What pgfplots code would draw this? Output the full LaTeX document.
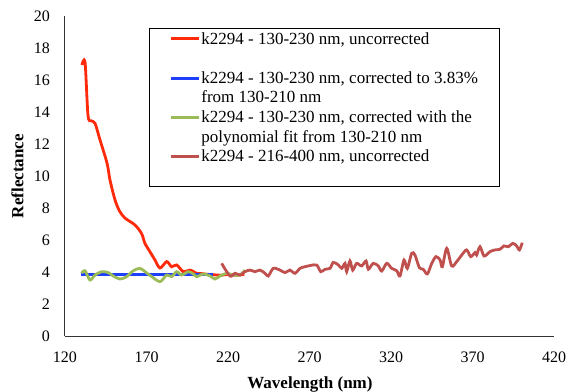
\documentclass[border=0pt]{standalone}
\usepackage{fontspec}
\setmainfont{Liberation Serif}
\usepackage{pgfplots}
\pgfplotsset{compat=1.18}
\definecolor{cred}{HTML}{FF2A0A}
\definecolor{cblue}{HTML}{1F3FFF}
\definecolor{cgreen}{HTML}{9BBB59}
\definecolor{cbrown}{HTML}{C0504D}
\begin{document}
\begin{tikzpicture}
\begin{axis}[
 at={(0,0)}, anchor=south west,
 width=489bp, height=320bp, scale only axis,
 xmin=120, xmax=420, ymin=0, ymax=20,
 xtick={120,170,...,420}, ytick={0,2,...,20},
 axis x line*=bottom, axis y line*=left,
 axis line style={black!80, line width=1bp},
 major tick length=0pt,
 /pgf/number format/assume math mode=true,
 tick label style={font=\fontsize{16bp}{19bp}\selectfont, inner sep=0pt},
 yticklabel style={anchor=east, xshift=-15bp},
 xticklabel style={anchor=north, yshift=-16bp},
 xlabel={\textbf{Wavelength (nm)}}, ylabel={\textbf{Reflectance}},
 label style={font=\fontsize{17bp}{20bp}\selectfont},
 xlabel style={at={(axis description cs:0.501,-0.1625)}, anchor=base},
 ylabel style={at={(axis description cs:-0.0849,0.5)}, anchor=base},
 every axis plot/.append style={line width=2.8bp, smooth, tension=0.5},
 legend image code/.code={\draw[#1, line width=3bp] (0bp,0bp) -- (28bp,0bp);},
 legend cell align=left,
 legend style={at={(axis description cs:0.1718,0.9625)}, anchor=north west,
   draw=black, line width=0.8bp, inner xsep=20bp, inner ysep=0.7bp,
   font=\fontsize{17bp}{19.6bp}\selectfont,
   nodes={inner xsep=1bp, inner ysep=0bp, text height=15bp, text depth=4.6bp},
   column sep=0bp, row sep=0bp},
]
\addplot[cred] coordinates {
(130.4,16.94) (132.3,17.1) (134.1,13.8) (136,13.45) (138.4,13.3) (141.5,12.25)
(145.8,10.8) (147.6,9.75) (150.7,8.5) (153.5,7.8) (156.8,7.37) (162.9,6.94)
(167,6.4) (169,5.8) (172.1,5.27) (175.2,4.75) (178.3,4.25) (182.4,4.65)
(185.4,4.33) (188.5,4.44) (192.6,4.02) (196.7,4.12) (200.8,3.92) (204,3.9)
(208,3.85) (212,3.82) (216,3.8) (220,3.85) (225,3.8) (230,3.85)};
\addlegendentry{k2294 - 130-230 nm, uncorrected}
\addlegendimage{empty legend}
\addlegendentry{}
\addplot[cblue] coordinates {(130,3.83) (150,3.83) (170,3.83) (190,3.83) (211,3.83)};
\addlegendentry{k2294 - 130-230 nm, corrected to 3.83\%}
\addlegendimage{empty legend}
\addlegendentry{from 130-210 nm}
\addplot[cgreen] coordinates {
(130.2,3.92) (132.3,4.08) (135.3,3.5) (138.4,3.81) (142.5,4.02) (146.6,3.96)
(149.6,3.75) (153.7,3.56) (157.8,3.71) (161.9,4.08) (166,4.23) (169.1,4.02)
(173.2,3.71) (178.3,3.4) (182.4,3.81) (185.4,3.71) (188.5,4.02) (191.6,3.81)
(195.6,4.02) (198.7,3.88) (200.8,3.71) (204.8,3.88) (209,3.75) (212,3.56)
(215.1,3.75) (219.2,3.92) (223.3,3.81) (227.4,3.81) (230.4,4.12)};
\addlegendentry{k2294 - 130-230 nm, corrected with the}
\addlegendimage{empty legend}
\addlegendentry{polynomial fit from 130-210 nm\hspace*{52bp}}
\addplot[cbrown] coordinates {
(216.1,4.54) (221.2,3.75) (224.3,3.92) (227.4,3.81) (230.4,4.02) (233.5,4.12)
(236.6,4.02) (239.6,4.12) (242.7,3.92) (244.7,3.75) (247.8,4.23) (251.9,4.12)
(255,3.96) (258,4.12) (261.1,3.92) (264.2,4.23) (267.2,4.33) (270.3,4.4)
(274.4,4.44) (276.9,4.02) (279.5,4.17) (282.6,4.23) (284.6,4.6) (287.7,4.44)
(289.8,4.23) (291.8,4.54) (292.8,4.02) (294.8,4.69) (296.5,4.12) (298.9,4.54)
(302,4.38) (304.7,4.69) (306.1,4.17) (309.1,4.54) (312.2,4.38) (314.3,4.06)
(317.4,4.54) (320.4,4.23) (323.5,4.08) (325.5,3.75) (328,4.75) (330,4.23)
(332.7,5.17) (334.7,5.06) (337.4,4.27) (339.8,4.17) (342.3,3.88) (345,4.54)
(347.6,4.96) (350.1,4.75) (351.5,4.33) (354.2,5.48) (357.2,4.38) (360.3,4.65)
(363.4,5.06) (366.4,5.38) (368.9,4.96) (371.5,5.21) (372.5,5.06) (374.6,5.58)
(377.1,5.0) (380.7,5.27) (383.7,5.38) (386.9,5.42) (389.3,5.63) (392,5.58)
(394.7,5.79) (397.1,5.63) (398.8,5.38) (400.5,5.83)};
\addlegendentry{k2294 - 216-400 nm, uncorrected}
\addlegendimage{empty legend}
\addlegendentry{}
\end{axis}
\pgfresetboundingbox
\path[use as bounding box] (-65bp,-56bp) rectangle (504bp,336bp);
\end{tikzpicture}
\end{document}
